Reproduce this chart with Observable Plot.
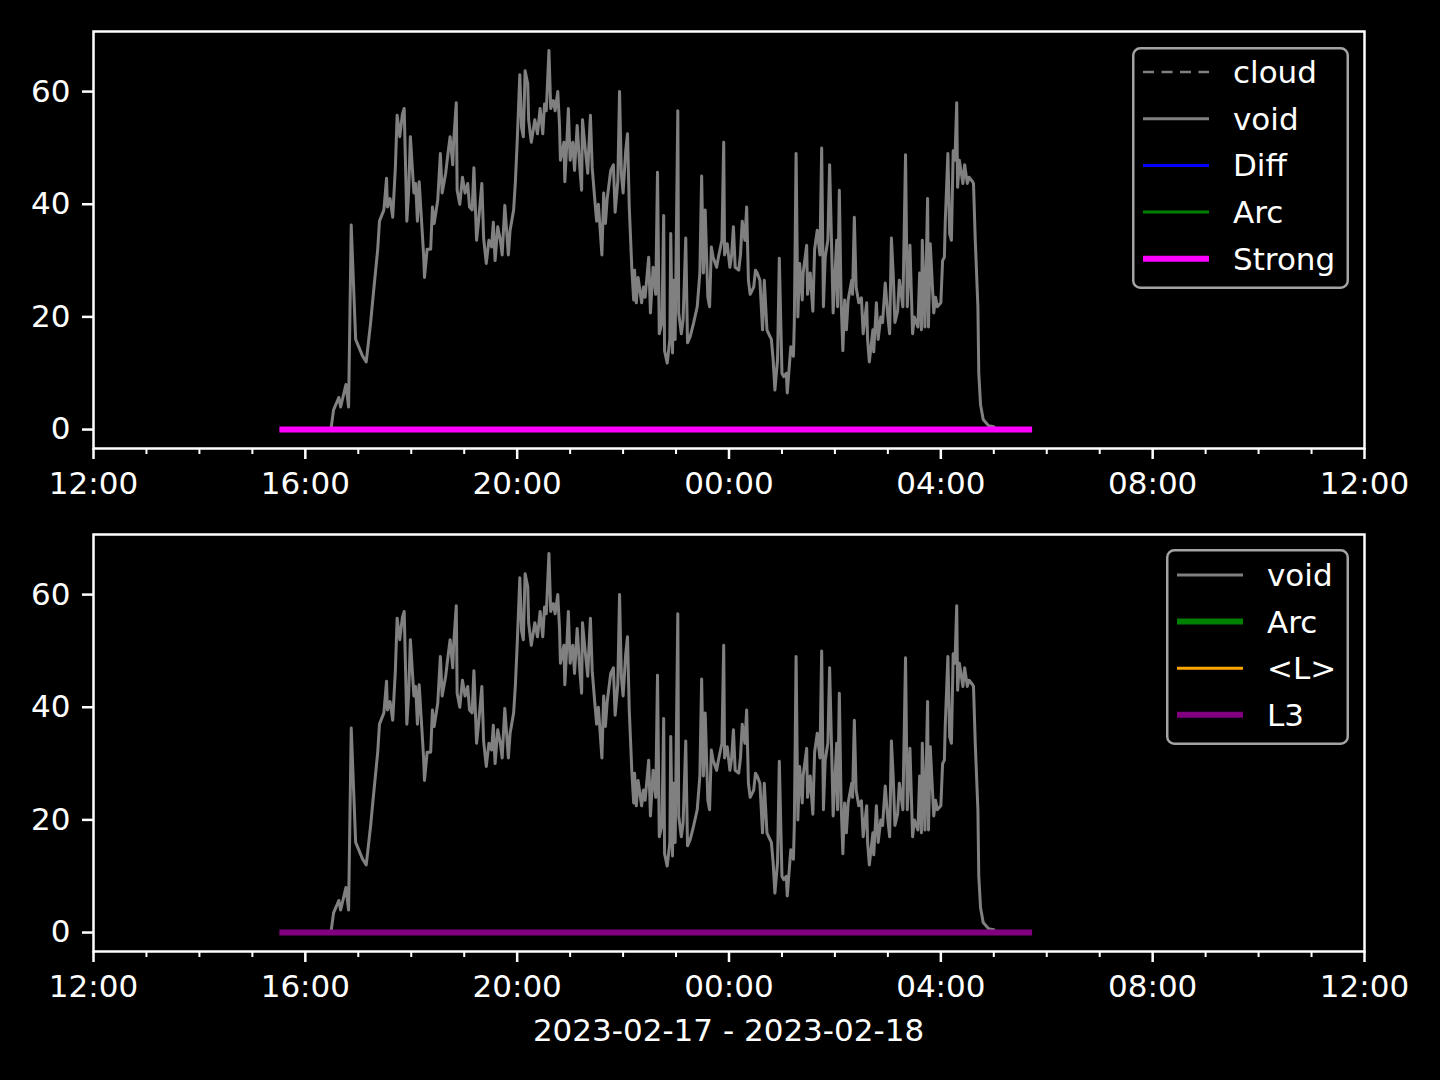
<!DOCTYPE html>
<html>
<head>
<meta charset="utf-8">
<script src="https://cdn.jsdelivr.net/npm/d3@7"></script>
<script src="https://cdn.jsdelivr.net/npm/@observablehq/plot@0.6"></script>
<style>
  html, body { margin: 0; padding: 0; background: #000; }
  #wrap { position: relative; width: 1440px; height: 1080px; background: #000; overflow: hidden; }
  #wrap svg { display: block; }
  #xlabel { width: 1271px; padding-left: 93px; text-align: center; color: #fff;
            font-family: "DejaVu Sans", sans-serif; font-size: 31px; line-height: 50px; }
</style>
</head>
<body>
<div id="wrap"></div>
<script>
// ---------------- data ----------------
// minutes after 2023-02-17 12:00
const voidMinutes = [
  269,272,278,280,286,289,292,297,305,309,
  314,317,322,324,329,332,333,336,339,342,
  344,347,350,352,355,357,359,363,365,367,
  369,374,375,378,382,384,386,390,393,395,
  399,402,404,407,408,411,412,415,418,421,
  424,426,
  429,431,434,436,440,442,445,448,451,453,
  455,458,461,463,466,470,472,476,478,480,
  483,485,487,489,492,493,496,500,503,506,
  509,511,513,516,518,521,523,526,528,529,
  533,534,536,538,540,543,545,548,551,553,
  554,557,560,561,563,565,568,570,572,576,
  578,580,582,586,589,591,594,596,598,600,
  603,605,607,610,612,613,615,617,621,623,
  625,629,631,
  634,637,639,641,644,646,647,650,653,654,
  656,657,659,662,663,666,668,671,673,676,
  680,684,687,689,691,693,696,698,700,702,
  706,708,712,714,715,718,721,723,725,727,
  731,733,735,738,740,742,744,748,750,752,
  755,758,760,763,765,768,770,772,775,777,
  780,782,785,786,790,793,794,796,798,800,
  803,804,808,809,812,815,817,820,823,825,
  827,829,832,834,
  837,838,842,843,845,847,849,851,853,855,
  859,860,862,864,867,870,872,876,877,879,
  883,884,887,889,892,894,897,900,902,904,
  906,908,911,913,917,920,922,925,928,930,
  934,936,938,939,942,945,946,948,952,954,
  956,960,962,964,965,968,970,972,974,976,
  978,979,981,985,987,990,992,996,997,999,
  1002,1003,1005,1008,1014,1020
];
const voidValues = [
  0,3.5,5.7,4,8,4,36.3,16,13,12,
  19,24,32,37,39,44.6,39.5,41,37.7,46.5,
  55.8,52,56,57,37,42,52,42,43.7,37,
  44,31,27,32,32,39.5,36.6,40.7,49,42,
  45.5,49.5,52,47,51,58,42.5,40,44.8,42,
  43.7,39.5,
  39,46.5,33.6,36.6,43.7,34,29.5,33.6,32.4,36.8,
  30,36,33.6,31,39.8,31,35.4,39,44,51,
  63,53.6,52,63.7,61.4,55,51,55,52.5,57,
  52.5,57.8,56.6,67.3,57,58.4,56.6,60,54,47.8,
  51,44,50,57,47.8,51,46,54,46.5,42.5,
  55,50,45.5,49.5,55.8,46.5,40.7,37,40,31,
  42,36.6,41,46,47,38.6,44,60,45.5,42,
  49.5,52.5,39.5,28.3,23,28.3,22.5,27,22.5,25.3,
  23.5,30.6,20.7,
  28.8,24,45.7,17,19,38,14,11.8,16,34.8,
  13.6,26.5,16,56.6,20.7,17,19.5,34,15.4,16.5,
  19,21.8,27.8,45,27.8,39,23.5,21.8,32.4,30.6,
  28.8,30.6,33.6,51,31,33,28.8,31,36,28.8,
  28.3,31,37,33.6,39.5,26.5,24,25.3,28.3,27.8,
  26.5,17.7,26.5,17.7,17,16,12.4,7,12.4,30.4,
  10,9.4,10,6.5,14.7,13,19,49,20,29.5,
  23,27.8,32.7,24,27.8,21,32,35.4,31,50,
  21.8,30.6,33.6,47,
  27.8,20.7,33.6,21.8,42.5,23,14,23,17.7,23,
  26.5,24,37.7,25.3,22.5,23.4,17,22.5,16,12,
  17.7,13.8,22.5,16,20,19,26,20,17,34,
  27.8,19,21,26.5,21.8,48.8,21.8,32.7,17,20,
  18.2,27.8,17.7,33.6,18.2,41,18.2,33,20.7,23.5,
  21.8,22.5,30,30.6,36.8,49,34.8,33.6,49.5,47.8,
  58,43,47.8,43.7,47,43.7,44.8,44,43.7,33.6,
  21.8,10,4.4,1.8,0.7,0.5
];
const strongMinutes = [214, 1060];
const strongValues = [0, 0];
const l3Minutes = [214, 1060];
const l3Values = [0, 0];

const yTicks = [0, 20, 40, 60];
const topLegendLabels = ["cloud", "void", "Diff", "Arc", "Strong"];
const bottomLegendLabels = ["void", "Arc", "<L>", "L3"];
const xLabelText = "2023-02-17 - 2023-02-18";

// ---------------- styles ----------------
const seriesStyle = {
  cloud:  {color: "#808080", width: 2.5, dash: "11,7.5"},
  void:   {color: "#808080", width: 3},
  Diff:   {color: "#0000ff", width: 3},
  Arc:    {color: "#008000", width: 3},
  Strong: {color: "#ff00ff", width: 6},
  "<L>":  {color: "#ffa500", width: 3},
  L3:     {color: "#800080", width: 6}
};
const bottomArcWidth = 6;

// ---------------- build ----------------
const base = Date.UTC(2023, 1, 17, 12, 0);
const toDate = m => new Date(base + m * 60000);
const voidData = voidMinutes.map((m, i) => ({time: toDate(m), value: voidValues[i]}));
const strongData = strongMinutes.map((m, i) => ({time: toDate(m), value: strongValues[i]}));
const l3Data = l3Minutes.map((m, i) => ({time: toDate(m), value: l3Values[i]}));

const xDomain = [toDate(0), toDate(1440)];
const majorTicks = d3.utcHour.every(4).range(xDomain[0], new Date(+xDomain[1] + 1));
const majorSet = new Set(majorTicks.map(Number));
const minorTicks = d3.utcHour.every(1).range(xDomain[0], new Date(+xDomain[1] + 1)).filter(d => !majorSet.has(+d));

function panel(h, mt, mb, overlayData, overlayStyle) {
  return Plot.plot({
    width: 1440, height: h,
    marginLeft: 93, marginRight: 76, marginTop: mt, marginBottom: mb,
    style: "background:#000;color:#fff;font-family:'DejaVu Sans',sans-serif;font-size:31px;overflow:visible",
    x: {type: "utc", domain: xDomain},
    y: {domain: [-3.365, 70.67]},
    marks: [
      Plot.line(voidData, {x: "time", y: "value", stroke: "#808080", strokeWidth: 3}),
      Plot.line(overlayData, {x: "time", y: "value", stroke: overlayStyle.color, strokeWidth: overlayStyle.width, strokeLinecap: "square"}),
      Plot.frame({stroke: "#fff", strokeWidth: 2.5}),
      Plot.axisX({ticks: minorTicks, tickSize: 6, tickFormat: () => "", strokeWidth: 2, label: null}),
      Plot.axisX({ticks: majorTicks, tickSize: 11, tickPadding: 12, tickFormat: d3.utcFormat("%H:%M"), strokeWidth: 2.5, label: null}),
      Plot.axisY({ticks: yTicks, tickSize: 11, tickPadding: 12, strokeWidth: 2.5, label: null})
    ]
  });
}

const wrap = document.getElementById("wrap");
wrap.appendChild(panel(500, 31, 52, strongData, seriesStyle.Strong));
wrap.appendChild(panel(505, 34, 54, l3Data, seriesStyle.L3));
const cap = document.createElement("div");
cap.id = "xlabel";
cap.textContent = xLabelText;
wrap.appendChild(cap);

function legend(labels, styleFor, left, top, w, h, firstY, step) {
  const svg = d3.create("svg")
    .attr("width", w).attr("height", h)
    .style("position", "absolute").style("left", left + "px").style("top", top + "px")
    .style("overflow", "visible");
  svg.append("rect").attr("x", 1.25).attr("y", 1.25).attr("width", w - 2.5).attr("height", h - 2.5)
    .attr("rx", 7).attr("fill", "#000").attr("stroke", "#a3a3a3").attr("stroke-width", 2.5);
  labels.forEach((lab, i) => {
    const s = styleFor(lab);
    const y = firstY + i * step;
    svg.append("line").attr("x1", 11).attr("x2", 77).attr("y1", y).attr("y2", y)
      .attr("stroke", s.color).attr("stroke-width", s.width)
      .attr("stroke-dasharray", s.dash || null);
    svg.append("text").attr("x", 101).attr("y", y + 11)
      .attr("fill", "#fff").attr("font-size", 31).attr("font-family", "DejaVu Sans, sans-serif")
      .text(lab);
  });
  wrap.appendChild(svg.node());
}
legend(topLegendLabels, l => seriesStyle[l], 1132, 47, 217, 242, 25, 46.7);
legend(bottomLegendLabels, l => (l === "Arc" ? {...seriesStyle.Arc, width: bottomArcWidth} : seriesStyle[l]), 1166, 549, 183, 196, 26, 46.6);
</script>
</body>
</html>
